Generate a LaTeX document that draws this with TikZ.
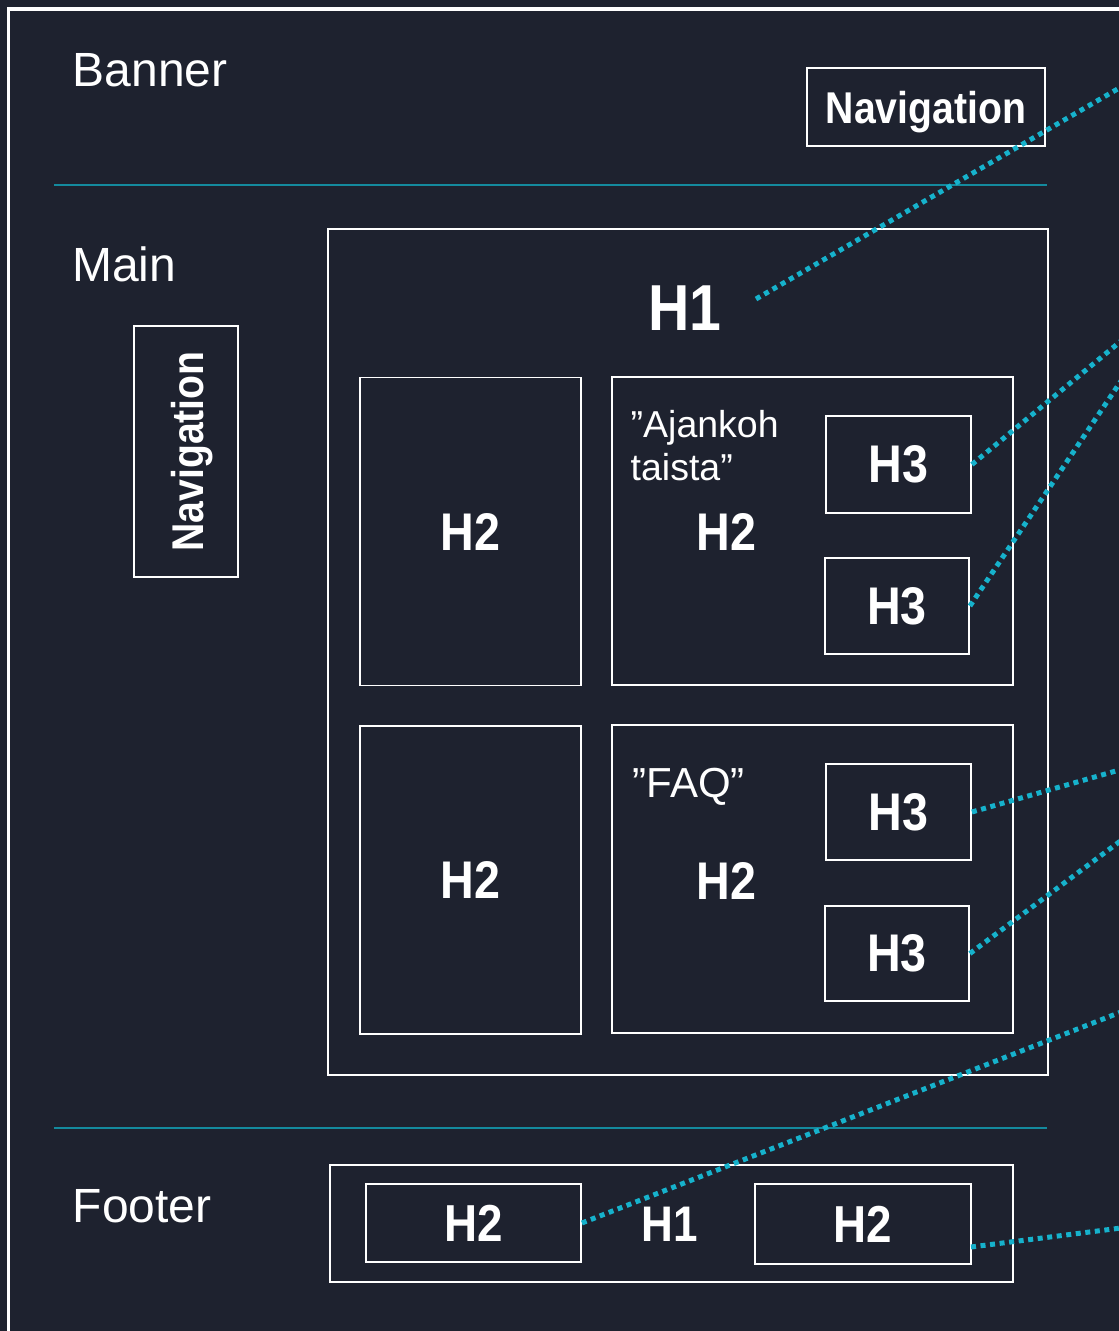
\documentclass[tikz,border=0pt]{standalone}
\usepackage{fontspec}
\setmainfont{Liberation Sans}
\newfontfamily\rg{Liberation Sans}
\newfontfamily\hb[FakeStretch=0.88]{Liberation Sans}
\definecolor{bg}{RGB}{30,34,47}
\definecolor{teal}{RGB}{20,138,158}
\definecolor{dotc}{RGB}{22,178,204}
\newcommand{\fs}[1]{\fontsize{#1}{#1}\selectfont}
\tikzset{
  box/.style={draw=white, line width=1.8pt, inner sep=0pt, minimum width=#1},
  lbl/.style={text=white, inner sep=0pt, font=\rg\fs{48}, anchor=base west},
  qt/.style={text=white, inner sep=0pt, anchor=base west},
  hd/.style={text=white, font=\hb\bfseries\fs{#1}},
  sep/.style={draw=teal, line width=2pt},
  dots/.style={draw=dotc, line width=5pt, dash pattern=on 5pt off 4.6pt}
}
\begin{document}
\begin{tikzpicture}[x=1pt,y=-1pt]
\useasboundingbox (0,0) rectangle (1119,1331);
\clip (0,0) rectangle (1119,1331);
\fill[bg] (0,0) rectangle (1119,1331);
% outer frame
\draw[white, line width=3.3pt] (8.3,1340) -- (8.3,9) -- (1130,9);
% separators
\draw[sep] (54,185) -- (1047,185);
\draw[sep] (54,1127.5) -- (1047,1127.5);
% section labels
\node[lbl] (banner) at (72.5,86.5) {Banner};
\node[lbl] (mainlbl) at (72,281.5) {Main};
\node[lbl] (footer) at (72.5,1222.5) {Footer};
% banner navigation
\node[box=238pt, minimum height=78pt] (navtop) at (926,107) {};
\node[hd=44.5, anchor=base, inner sep=0pt] (navtoptxt) at (926,123) {Navigation};
% side navigation
\node[box=104pt, minimum height=251pt] (navside) at (186,451.5) {};
\node[hd=44.5, anchor=base, inner sep=0pt, rotate=90] (navsidetxt) at (203,451.5) {Navigation};
% main
\node[box=720pt, minimum height=846pt] (mainbox) at (688,652) {};
\node[hd=65, inner sep=0pt] (h1main) at (685,308) {H1};
\node[box=221pt, minimum height=308pt, hd=53] (h2a) at (470.5,531.5) {H2};
\node[box=401pt, minimum height=308pt] (h2b) at (812.5,531) {};
\node[qt, font=\rg\fs{37.5}] (ajk1) at (630.5,437) {”Ajankoh};
\node[qt, font=\rg\fs{37.5}] (ajk2) at (630.5,480.5) {taista”};
\node[hd=53, inner sep=0pt] (h2btxt) at (726.5,532) {H2};
\node[box=145pt, minimum height=97pt, hd=53] (h3a) at (898.5,464.5) {H3};
\node[box=144pt, minimum height=96pt, hd=53] (h3b) at (897,606) {H3};
\node[box=221pt, minimum height=308pt, hd=53] (h2c) at (470.5,880) {H2};
\node[box=401pt, minimum height=308pt] (h2d) at (812.5,879) {};
\node[qt, font=\rg\fs{42}] (faq) at (632.5,797) {”FAQ”};
\node[hd=53, inner sep=0pt] (h2dtxt) at (726.5,881) {H2};
\node[box=145pt, minimum height=96pt, hd=53] (h3c) at (898.5,812) {H3};
\node[box=144pt, minimum height=95pt, hd=53] (h3d) at (897,953.5) {H3};
% footer
\node[box=683pt, minimum height=117pt] (footbox) at (671.5,1223.5) {};
\node[box=215pt, minimum height=78pt, hd=52] (fh2a) at (473.5,1223) {H2};
\node[hd=50, inner sep=0pt] (fh1) at (669.5,1224.5) {H1};
\node[box=216pt, minimum height=80pt, hd=52] (fh2b) at (863,1224) {H2};
% connector ends
\coordinate (s1) at (756,299);
\coordinate (e1) at (1121,87);
\coordinate (e2) at (1121,341);
\coordinate (e3) at (1121,381);
\coordinate (e4) at (1121,769.5);
\coordinate (e5) at (1121,840.5);
\coordinate (e6) at (1121,1012);
\coordinate (s7) at (971,1247);
\coordinate (e7) at (1121,1228);
% dotted connectors
\draw[dots] (s1) -- (e1);
\draw[dots] (h3a.east) -- (e2);
\draw[dots] (h3b.east) -- (e3);
\draw[dots] (h3c.east) -- (e4);
\draw[dots] (h3d.east) -- (e5);
\draw[dots] (fh2a.east) -- (e6);
\draw[dots] (s7) -- (e7);
\end{tikzpicture}
\end{document}
